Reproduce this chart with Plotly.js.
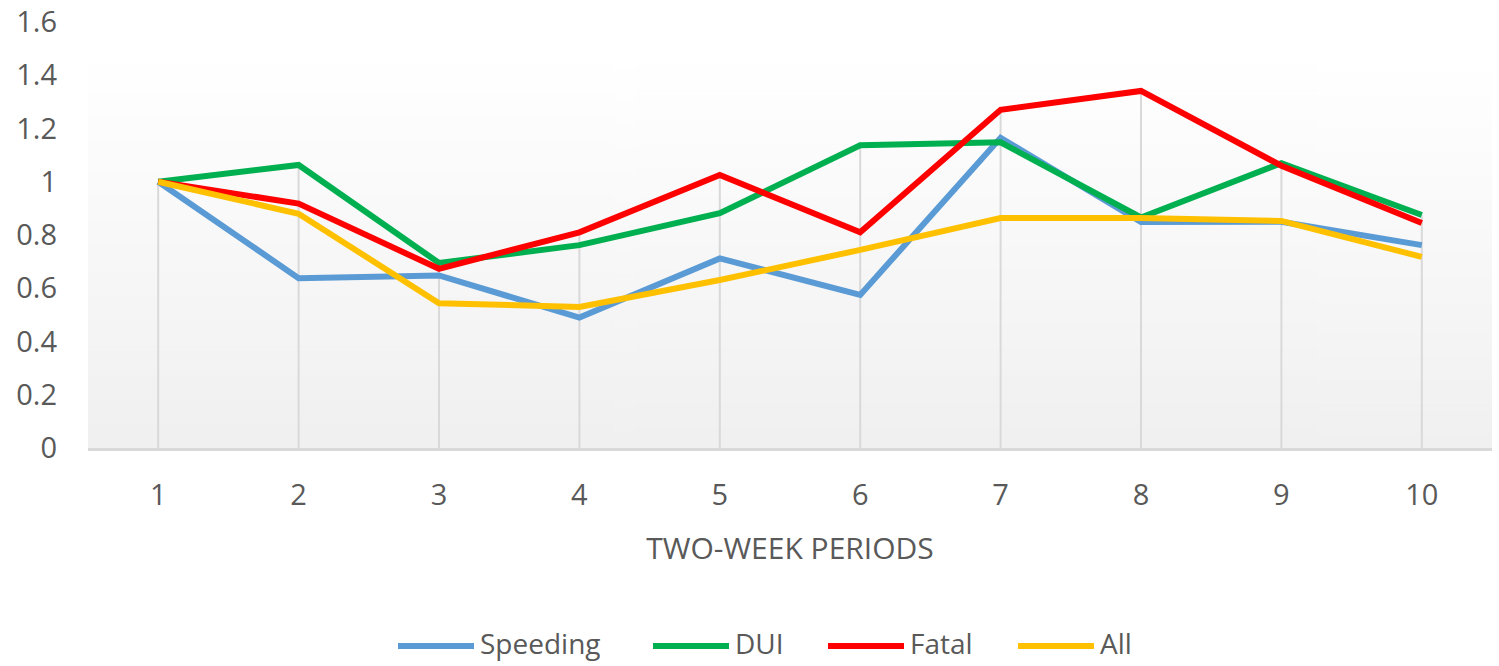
<!DOCTYPE html>
<html>
<head>
<meta charset="utf-8">
<script src="https://cdn.plot.ly/plotly-3.0.1.min.js"></script>
<style>html,body{margin:0;padding:0;background:#fff;}#chart{width:1499px;height:666px;}</style>
</head>
<body>
<div id="chart"></div>
<script>
const periods = [1, 2, 3, 4, 5, 6, 7, 8, 9, 10];
const speeding = [1.0, 0.638, 0.648, 0.49, 0.712, 0.575, 1.165, 0.849, 0.85, 0.762];
const dui      = [1.0, 1.063, 0.695, 0.762, 0.882, 1.137, 1.148, 0.866, 1.07, 0.875];
const fatal    = [1.0, 0.918, 0.673, 0.81, 1.025, 0.81, 1.27, 1.341, 1.06, 0.845];
const allCases = [1.0, 0.88, 0.544, 0.53, 0.631, 0.744, 0.864, 0.864, 0.853, 0.718];
const seriesNames = ['Speeding', 'DUI', 'Fatal', 'All'];
const yTicks = [0, 0.2, 0.4, 0.6, 0.8, 1, 1.2, 1.4, 1.6];

const seriesData = [speeding, dui, fatal, allCases];
const colors = ['#5B9BD5', '#00B050', '#FF0000', '#FFC000'];

// drop lines (from 0 to the highest value of each period)
const dropX = [], dropY = [];
periods.forEach((p, i) => {
  const m = Math.max(...seriesData.map(s => s[i]));
  dropX.push(p, p, null);
  dropY.push(0, m, null);
});

const traces = [{
  x: dropX, y: dropY, mode: 'lines', type: 'scatter',
  line: {color: '#d9d9d9', width: 2}, showlegend: false, hoverinfo: 'skip'
}];
seriesData.forEach((s, k) => {
  traces.push({
    x: periods, y: s, name: seriesNames[k], type: 'scatter', mode: 'lines',
    line: {color: colors[k], width: 6, shape: 'linear'}, showlegend: false
  });
});

// gradient background image
const cv = document.createElement('canvas');
cv.width = 4; cv.height = 256;
const ctx = cv.getContext('2d');
const g = ctx.createLinearGradient(0, 0, 0, 256);
g.addColorStop(0, '#ffffff');
g.addColorStop(1, '#f0f0f0');
ctx.fillStyle = g;
ctx.fillRect(0, 0, 4, 256);
const bgTop = 1.446;

// custom legend (pixel layout converted to paper coordinates)
const plotL = 88, plotW = 1404, plotB = 448, plotH = 426;
const px = v => (v - plotL) / plotW;
const py = v => (plotB - v) / plotH;
const legendStarts = [395, 650, 825, 1015];
const legendLineLen = 82;
const legendLineY = 646;
const legendTextY = 643;
const shapes = [], annotations = [];
seriesNames.forEach((n, k) => {
  shapes.push({
    type: 'line', xref: 'paper', yref: 'paper',
    x0: px(legendStarts[k] + 3), x1: px(legendStarts[k] + legendLineLen - 3),
    y0: py(legendLineY), y1: py(legendLineY),
    line: {color: colors[k], width: 6}
  });
  annotations.push({
    xref: 'paper', yref: 'paper', x: px(legendStarts[k] + legendLineLen + 2), y: py(legendTextY),
    xanchor: 'left', yanchor: 'middle', showarrow: false, text: n, borderpad: 0,
    font: {family: 'Open Sans, Lato, sans-serif', size: 28, color: '#595959'}
  });
});

const font = 'Open Sans, Lato, sans-serif';
const layout = {
  width: 1499, height: 666,
  margin: {l: 88, r: 7, t: 22, b: 218, autoexpand: false},
  paper_bgcolor: '#ffffff',
  plot_bgcolor: 'rgba(0,0,0,0)',
  showlegend: false,
  font: {family: font, color: '#595959', size: 29},
  xaxis: {
    range: [0.5, 10.5],
    tickvals: periods,
    ticktext: periods.map(String),
    showgrid: false, zeroline: false,
    showline: true, linecolor: '#d9d9d9', linewidth: 3,
    ticks: '', ticklabelstandoff: 19,
    tickfont: {family: font, size: 29, color: '#595959'},
    title: {text: 'TWO-WEEK PERIODS', font: {family: font, size: 30, color: '#595959'}, standoff: 27}
  },
  yaxis: {
    range: [0, 1.6],
    tickvals: yTicks,
    showgrid: false, zeroline: false, showline: false,
    ticks: '', ticklabelstandoff: 30,
    tickfont: {family: font, size: 29, color: '#595959'}
  },
  shapes: shapes,
  annotations: annotations,
  images: [{
    source: cv.toDataURL(), xref: 'paper', yref: 'y',
    x: 0, y: bgTop, sizex: 1, sizey: bgTop, sizing: 'stretch',
    xanchor: 'left', yanchor: 'top', layer: 'below'
  }]
};

Plotly.newPlot('chart', traces, layout, {displayModeBar: false, staticPlot: true});
</script>
</body>
</html>
